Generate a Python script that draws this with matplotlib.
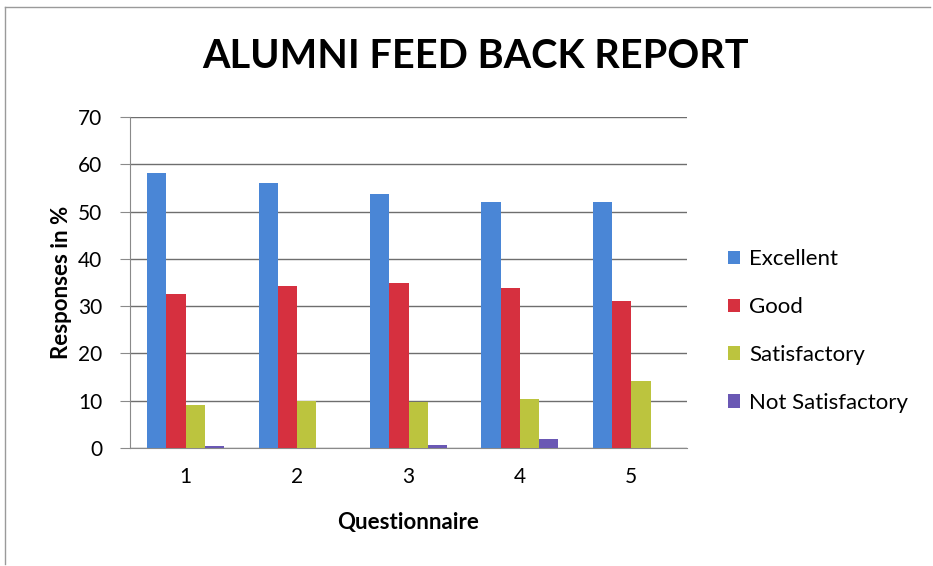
import matplotlib
matplotlib.use("Agg")
import matplotlib.pyplot as plt
import numpy as np
from matplotlib.lines import Line2D

categories = ["1", "2", "3", "4", "5"]
series_names = ["Excellent", "Good", "Satisfactory", "Not Satisfactory"]
excellent = [58.1, 56.1, 53.8, 52.0, 52.0]
good = [32.6, 34.2, 34.9, 33.8, 31.0]
satisfactory = [9.1, 10.0, 9.8, 10.4, 14.1]
not_satisfactory = [0.5, 0.0, 0.6, 1.9, 0.1]
yticks = [0, 10, 20, 30, 40, 50, 60, 70]

colors = ["#4a86d6", "#d6303f", "#bcc43e", "#6a58b4"]

plt.rcParams['font.family'] = ['Lato', 'DejaVu Sans']

fig = plt.figure(figsize=(9.33, 5.66), dpi=100)
ax = fig.add_axes([130/933, 1-448/566, (687-130)/933, (448-117)/566])

x = np.arange(1, len(categories) + 1)
w = 0.1725
data = [excellent, good, satisfactory, not_satisfactory]
for i, (vals, c, name) in enumerate(zip(data, colors, series_names)):
    ax.bar(x + (i - 1.5) * w, vals, width=w, color=c, label=name, zorder=3)

ax.set_xlim(0.5, 5.5)
ax.set_ylim(0, 70)
ax.set_yticks(yticks)
ax.set_xticks(x)
ax.set_xticklabels(categories)
ax.yaxis.grid(True, color="#6e6e6e", linewidth=1.0, zorder=0)
for s in ["top", "right"]:
    ax.spines[s].set_visible(False)
ax.spines["left"].set_color("#8a8a8a")
ax.spines["bottom"].set_color("#8a8a8a")
ax.tick_params(axis="y", length=7, color="#8a8a8a", labelsize=15, pad=13)
ax.tick_params(axis="x", length=0, labelsize=15, pad=14)

ax.set_ylabel("Responses in %", fontsize=16, fontweight="bold", labelpad=4)
ax.set_xlabel("Questionnaire", fontsize=16, fontweight="bold", labelpad=18)

fig.text(476/933, 1-57/566, "ALUMNI FEED BACK REPORT", ha="center", va="center",
         fontsize=28.5, fontweight="bold")

leg = ax.legend(loc="center left", bbox_to_anchor=(708/933, 1-331/566),
                bbox_transform=fig.transFigure, frameon=False, fontsize=16,
                handlelength=0.55, handleheight=0.55, handletextpad=0.4,
                labelspacing=1.25)

# chart border
fig.add_artist(Line2D([5/933, 930/933], [1-7/566, 1-7/566], transform=fig.transFigure,
                      color="#9a9a9a", linewidth=1))
fig.add_artist(Line2D([5/933, 5/933], [1-7/566, 1-564/566], transform=fig.transFigure,
                      color="#9a9a9a", linewidth=1))

fig.savefig("out.png", dpi=100)
